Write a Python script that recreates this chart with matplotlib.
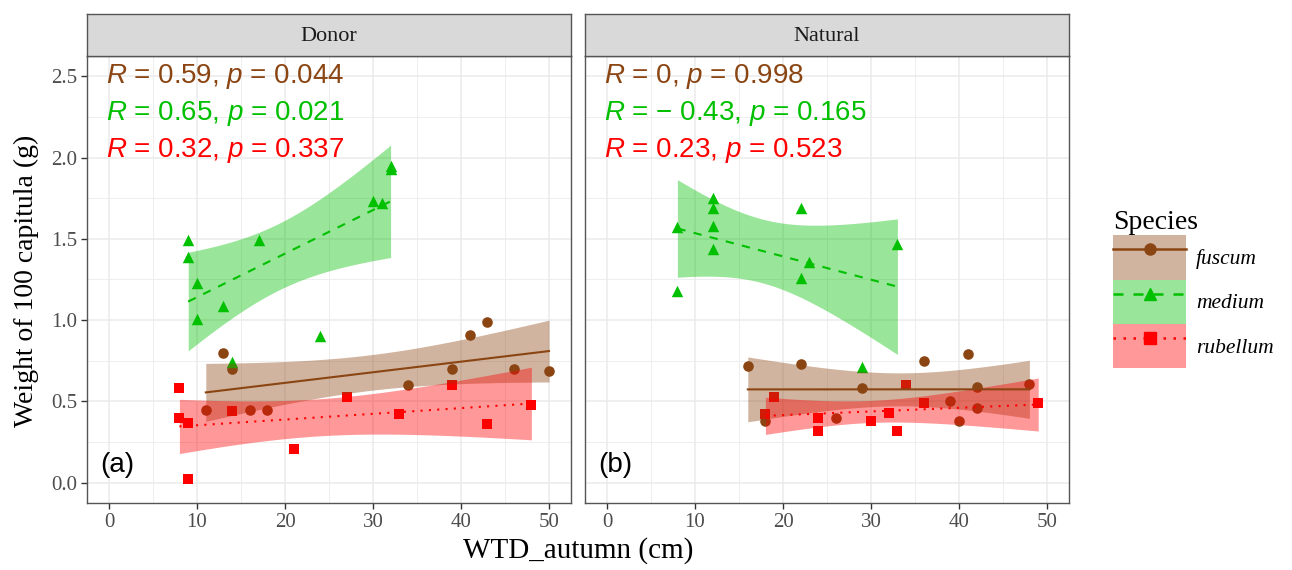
import numpy as np
import matplotlib
matplotlib.use("Agg")
import matplotlib.pyplot as plt
from matplotlib.patches import Patch
from matplotlib.lines import Line2D

plt.rcParams['mathtext.fontset'] = 'custom'
plt.rcParams['mathtext.it'] = 'Liberation Sans:italic'
plt.rcParams['mathtext.rm'] = 'Liberation Sans'

# ---- data ----
donor_fuscum_x = [11, 13, 14, 16, 18, 34, 39, 41, 43, 46, 50]
donor_fuscum_y = [0.45, 0.80, 0.70, 0.45, 0.45, 0.60, 0.70, 0.91, 0.99, 0.70, 0.69]
donor_medium_x = [9, 9, 10, 10, 13, 14, 17, 24, 30, 31, 32, 32]
donor_medium_y = [1.49, 1.39, 1.23, 1.01, 1.09, 0.74, 1.49, 0.90, 1.73, 1.72, 1.95, 1.93]
donor_rubellum_x = [8, 8, 9, 9, 14, 21, 27, 33, 39, 43, 48]
donor_rubellum_y = [0.58, 0.40, 0.37, 0.02, 0.44, 0.21, 0.53, 0.42, 0.60, 0.36, 0.48]

natural_fuscum_x = [16, 18, 22, 26, 29, 36, 39, 40, 41, 42, 42, 48]
natural_fuscum_y = [0.72, 0.38, 0.73, 0.40, 0.58, 0.75, 0.50, 0.38, 0.79, 0.59, 0.46, 0.61]
natural_medium_x = [8, 8, 12, 12, 12, 12, 22, 22, 23, 29, 33]
natural_medium_y = [1.57, 1.18, 1.75, 1.69, 1.58, 1.44, 1.69, 1.26, 1.36, 0.71, 1.47]
natural_rubellum_x = [18, 19, 24, 24, 30, 32, 33, 34, 36, 49]
natural_rubellum_y = [0.42, 0.53, 0.40, 0.32, 0.38, 0.43, 0.32, 0.60, 0.49, 0.49]

species = ['fuscum', 'medium', 'rubellum']
facets = ['Donor', 'Natural']
panel_tags = ['(a)', '(b)']
stat_labels = {
    'Donor': ['$R$ = 0.59, $p$ = 0.044', '$R$ = 0.65, $p$ = 0.021', '$R$ = 0.32, $p$ = 0.337'],
    'Natural': ['$R$ = 0, $p$ = 0.998', '$R$ = \u2212 0.43, $p$ = 0.165', '$R$ = 0.23, $p$ = 0.523'],
}
data = {
    'Donor': [(donor_fuscum_x, donor_fuscum_y), (donor_medium_x, donor_medium_y),
              (donor_rubellum_x, donor_rubellum_y)],
    'Natural': [(natural_fuscum_x, natural_fuscum_y), (natural_medium_x, natural_medium_y),
                (natural_rubellum_x, natural_rubellum_y)],
}

colors = ['#8B4513', '#00C000', '#FF0000']
markers = ['o', '^', 's']
msizes = [58, 68, 58]
styles = ['-', (0, (4, 4)), (0, (1, 3))]
t975 = {7: 2.365, 8: 2.306, 9: 2.262, 10: 2.228, 11: 2.201, 12: 2.179}

W, H = 1292, 570
fig = plt.figure(figsize=(W / 100, H / 100), dpi=100)

panel_left = [87, 585]
pw = 484
ptop, pbot = 56, 503
strip_top = 14

for k, facet in enumerate(facets):
    ax = fig.add_axes([panel_left[k] / W, 1 - pbot / H, pw / W, (pbot - ptop) / H])
    ax.set_xlim(-2.5, 52.5)
    ax.set_ylim(-0.125, 2.625)
    ax.set_xticks([0, 10, 20, 30, 40, 50])
    ax.set_xticks([5, 15, 25, 35, 45], minor=True)
    ax.set_yticks([0, 0.5, 1.0, 1.5, 2.0, 2.5])
    ax.set_yticks([0.25, 0.75, 1.25, 1.75, 2.25], minor=True)
    ax.grid(True, which='major', color='#EBEBEB', lw=1.1, zorder=0)
    ax.grid(True, which='minor', color='#EBEBEB', lw=0.6, zorder=0)
    ax.set_axisbelow(True)
    for s in ax.spines.values():
        s.set_color('#555555')
        s.set_linewidth(1.0)
    ax.tick_params(which='minor', length=0)
    ax.tick_params(which='major', length=4, width=1, color='#333333',
                   labelcolor='#4D4D4D', labelsize=15, pad=3)
    ax.set_xticklabels(['0', '10', '20', '30', '40', '50'], family='Liberation Serif')
    if k == 0:
        ax.set_yticklabels(['0.0', '0.5', '1.0', '1.5', '2.0', '2.5'], family='Liberation Serif')
    else:
        ax.tick_params(axis='y', which='both', length=0, labelleft=False)

    # points
    for i, (xs, ys) in enumerate(data[facet]):
        ax.scatter(xs, ys, s=msizes[i], marker=markers[i], color=colors[i], lw=0, zorder=2)

    # linear fits with 95% CI
    for i, (xs, ys) in enumerate(data[facet]):
        x = np.array(xs, float)
        y = np.array(ys, float)
        n = len(x)
        b, a = np.polyfit(x, y, 1)
        xx = np.linspace(x.min(), x.max(), 80)
        yy = a + b * xx
        res = y - (a + b * x)
        s = np.sqrt(np.sum(res ** 2) / (n - 2))
        se = s * np.sqrt(1 / n + (xx - x.mean()) ** 2 / np.sum((x - x.mean()) ** 2))
        tq = t975[n - 2]
        ax.fill_between(xx, yy - tq * se, yy + tq * se, color=colors[i], alpha=0.4, lw=0, zorder=3)
        ax.plot(xx, yy, color=colors[i], ls=styles[i], lw=1.5, zorder=4)

    for i, txt in enumerate(stat_labels[facet]):
        ax.text(-0.3, 2.5 - i * 0.228, txt, color=colors[i], fontsize=20,
                family='Liberation Sans', va='center', ha='left', zorder=5)
    ax.text(-1.0, 0.11, panel_tags[k], fontsize=20, family='Liberation Sans',
            color='black', va='center', ha='left', zorder=5)

    # strip
    sax = fig.add_axes([panel_left[k] / W, 1 - ptop / H, pw / W, (ptop - strip_top) / H])
    sax.set_facecolor('#D9D9D9')
    sax.set_xticks([])
    sax.set_yticks([])
    for s in sax.spines.values():
        s.set_color('#555555')
        s.set_linewidth(1.0)
    sax.text(0.5, 0.47, facet, ha='center', va='center', fontsize=16,
             family='Liberation Serif', color='#1A1A1A', transform=sax.transAxes)

fig.text(578 / W, 1 - 551 / H, 'WTD_autumn (cm)', ha='center', va='center',
         fontsize=21, family='Liberation Serif')
fig.text(26 / W, 1 - 281 / H, 'Weight of 100 capitula (g)', ha='center', va='center',
         rotation=90, fontsize=20, family='Liberation Serif')

handles = []
for i in range(3):
    handles.append((Patch(facecolor=colors[i], alpha=0.4, lw=0),
                    Line2D([], [], color=colors[i], ls=styles[i], lw=1.8,
                           marker=markers[i], markersize=8)))
leg = fig.legend(handles, species, loc='upper left', bbox_to_anchor=(1098 / W, 1 - 195 / H),
                 frameon=False, title='Species', numpoints=1,
                 prop={'family': 'Liberation Serif', 'style': 'italic', 'size': 15.5},
                 title_fontproperties={'family': 'Liberation Serif', 'size': 20},
                 handlelength=3.4, handleheight=2.8, labelspacing=0, handletextpad=0.45,
                 borderpad=0.2)
leg._legend_box.align = 'left'

fig.savefig('out.png', dpi=100)
